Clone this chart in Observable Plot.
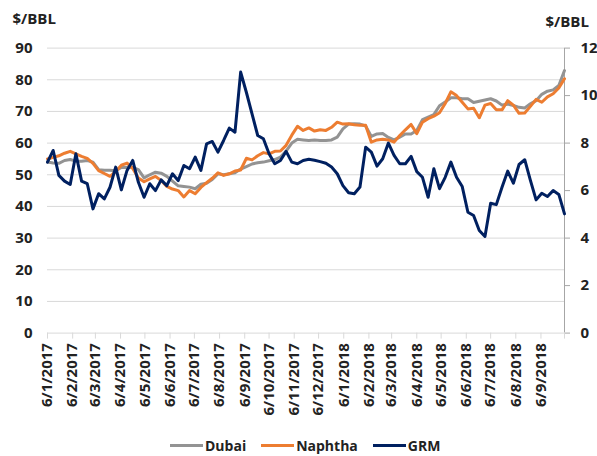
<!DOCTYPE html>
<html>
<head>
<meta charset="utf-8">
<script src="https://cdn.jsdelivr.net/npm/d3@7"></script>
<script src="https://cdn.jsdelivr.net/npm/@observablehq/plot@0.6"></script>
<style>
  body { margin: 0; background: #fff; }
  #wrap { width: 597px; height: 456px; position: relative; overflow: hidden; background: #fff; }
  #legend { position: absolute; left: 0; top: 432px; width: 597px; height: 26px; display: flex; align-items: center;
            padding-left: 170px; box-sizing: border-box; font: bold 14px "Open Sans", sans-serif; color: #222; }
  #legend .item { display: flex; align-items: center; margin-right: 15px; }
  #legend .sw { width: 33px; height: 3px; margin-right: 2px; }
</style>
</head>
<body>
<div id="wrap"><div id="chart"></div><div id="legend"></div></div>
<script>
// ---- data ----
const seriesNames = ["Dubai", "Naphtha", "GRM"];
const seriesColors = ["#939393", "#ED7D31", "#002060"];
const firstWeek = "2017-01-06"; // weekly observations start
const dubai = [54.0,53.7,53.6,54.5,54.8,54.3,54.3,54.5,54.0,51.6,
  51.4,51.4,51.3,52.3,52.4,52.3,51.6,49.0,50.0,50.8,
  50.5,49.5,48.0,46.5,46.3,46.1,45.6,47.0,47.3,48.5,
  50.3,50.0,50.3,50.6,51.8,52.6,53.4,53.8,54.0,54.4,
  54.8,55.6,57.5,60.0,61.2,61.0,60.8,61.0,60.8,60.8,
  61.0,61.9,64.5,66.0,66.1,66.0,65.4,62.1,62.9,63.0,
  61.8,61.0,61.9,62.9,62.9,64.0,67.4,68.2,69.0,71.8,
  73.0,74.3,74.3,74.0,74.0,72.8,73.2,73.6,74.0,73.3,
  72.0,72.3,71.9,71.3,71.1,72.4,73.4,75.4,76.4,76.8,
  78.2,82.9];
const naphtha = [55.0,55.5,56.0,56.8,57.4,56.6,55.8,55.2,53.6,51.3,
  50.4,49.5,51.0,53.0,53.7,52.0,49.0,47.8,48.7,49.5,
  48.2,46.3,45.5,45.0,43.0,45.0,44.0,46.0,47.5,48.9,
  50.6,49.8,50.3,51.2,51.5,55.2,54.7,56.0,57.0,56.6,
  57.4,57.5,59.3,62.5,65.3,64.0,64.8,63.8,64.2,64.0,
  65.0,66.6,66.0,66.1,65.8,65.6,65.6,60.3,61.0,61.2,
  61.0,60.3,62.4,64.2,65.9,63.0,66.6,67.7,68.5,69.6,
  72.5,76.2,75.0,72.9,70.8,71.0,68.0,72.0,72.5,70.5,
  70.5,73.4,72.0,69.4,69.5,71.6,73.8,72.9,74.6,75.6,
  77.4,80.3];
const grm = [7.20,7.69,6.64,6.40,6.26,7.55,6.40,6.29,5.23,5.87,
  5.65,6.14,6.99,6.03,6.85,7.27,6.35,5.72,6.29,6.00,
  6.45,6.21,6.71,6.42,7.06,6.92,7.41,6.85,7.97,8.07,
  7.62,8.11,8.63,8.46,10.99,10.14,9.23,8.32,8.18,7.55,
  7.13,7.27,7.65,7.20,7.13,7.27,7.32,7.28,7.22,7.15,
  6.99,6.71,6.21,5.91,5.87,6.15,7.83,7.62,7.03,7.34,
  8.00,7.48,7.13,7.13,7.44,6.80,6.56,5.72,6.92,6.08,
  6.56,7.20,6.56,6.17,5.09,4.95,4.32,4.07,5.47,5.41,
  6.14,6.82,6.31,7.10,7.30,6.43,5.61,5.89,5.75,6.00,
  5.84,5.02];
const xTickLabels = ["6/1/2017","6/2/2017","6/3/2017","6/4/2017","6/5/2017","6/6/2017","6/7/2017",
  "6/8/2017","6/9/2017","6/10/2017","6/11/2017","6/12/2017","6/1/2018","6/2/2018","6/3/2018",
  "6/4/2018","6/5/2018","6/6/2018","6/7/2018","6/8/2018","6/9/2018"];
const leftTicks = [0,10,20,30,40,50,60,70,80,90];
const rightTicks = [0,2,4,6,8,10,12];
const unitLabel = "$/BBL";

// ---- build ----
const n = dubai.length;
const t0 = new Date(firstWeek + "T00:00:00Z");
const dates = d3.range(n).map(i => d3.utcDay.offset(t0, 7 * i));
const leftMax = leftTicks[leftTicks.length - 1];
const rightMax = rightTicks[rightTicks.length - 1];
const ratio = leftMax / rightMax;
const rows = dates.map((d, i) => ({date: d, dubai: dubai[i], naphtha: naphtha[i], grm: grm[i] * ratio}));
const parseDMY = s => { const [d, m, y] = s.split("/").map(Number); return new Date(Date.UTC(y, m - 1, d)); };
const labelDates = xTickLabels.map(parseDMY);
const labelMap = new Map(labelDates.map((d, i) => [+d, xTickLabels[i]]));
const xEnd = dates[n - 1];
const xTicks = [...labelDates, xEnd];

const H = 430;
const chart = Plot.plot({
  width: 597, height: H,
  marginTop: 47.6, marginBottom: H - 332.6, marginLeft: 47, marginRight: 33,
  x: {type: "utc", domain: [dates[0], xEnd], axis: null},
  y: {domain: [0, leftMax], axis: null},
  style: {fontFamily: "'Open Sans', sans-serif", fontSize: "15px", fontWeight: "bold", color: "#222", background: "#fff"},
  marks: [
    Plot.ruleY(leftTicks, {stroke: "#d9d9d9", strokeWidth: 1}),
    Plot.axisY({ticks: leftTicks, tickSize: 0, tickPadding: 15, tickFormat: d => d, fill: "#222"}),
    Plot.axisY({anchor: "right", ticks: rightTicks.map(v => v * ratio), tickFormat: d => Math.round(d / ratio),
                tickSize: 5, tickPadding: 11, stroke: "#a6a6a6", fill: "#222"}),
    Plot.ruleX([xEnd], {stroke: "#a6a6a6", strokeWidth: 1}),
    Plot.axisX({ticks: xTicks, tickSize: 6, tickPadding: 4, tickRotate: -90,
                tickFormat: d => labelMap.get(+d) ?? "", stroke: "#d9d9d9", fill: "#222"}),
    Plot.lineY(rows, {x: "date", y: "dubai", stroke: seriesColors[0], strokeWidth: 3}),
    Plot.lineY(rows, {x: "date", y: "naphtha", stroke: seriesColors[1], strokeWidth: 3}),
    Plot.lineY(rows, {x: "date", y: "grm", stroke: seriesColors[2], strokeWidth: 3}),
    Plot.text([unitLabel], {frameAnchor: "top-left", dx: -35, dy: -29, textAnchor: "start", lineAnchor: "middle",
                fontSize: 15, fontWeight: "bold", fill: "#222"}),
    Plot.text([unitLabel], {frameAnchor: "top-right", dx: -19, dy: -26, textAnchor: "start", lineAnchor: "middle",
                fontSize: 15, fontWeight: "bold", fill: "#222"})
  ]
});
document.getElementById("chart").appendChild(chart);

const legend = document.getElementById("legend");
seriesNames.forEach((name, i) => {
  const item = document.createElement("div");
  item.className = "item";
  const sw = document.createElement("span");
  sw.className = "sw";
  sw.style.background = seriesColors[i];
  const label = document.createElement("span");
  label.textContent = name;
  item.appendChild(sw); item.appendChild(label);
  legend.appendChild(item);
});
</script>
</body>
</html>
